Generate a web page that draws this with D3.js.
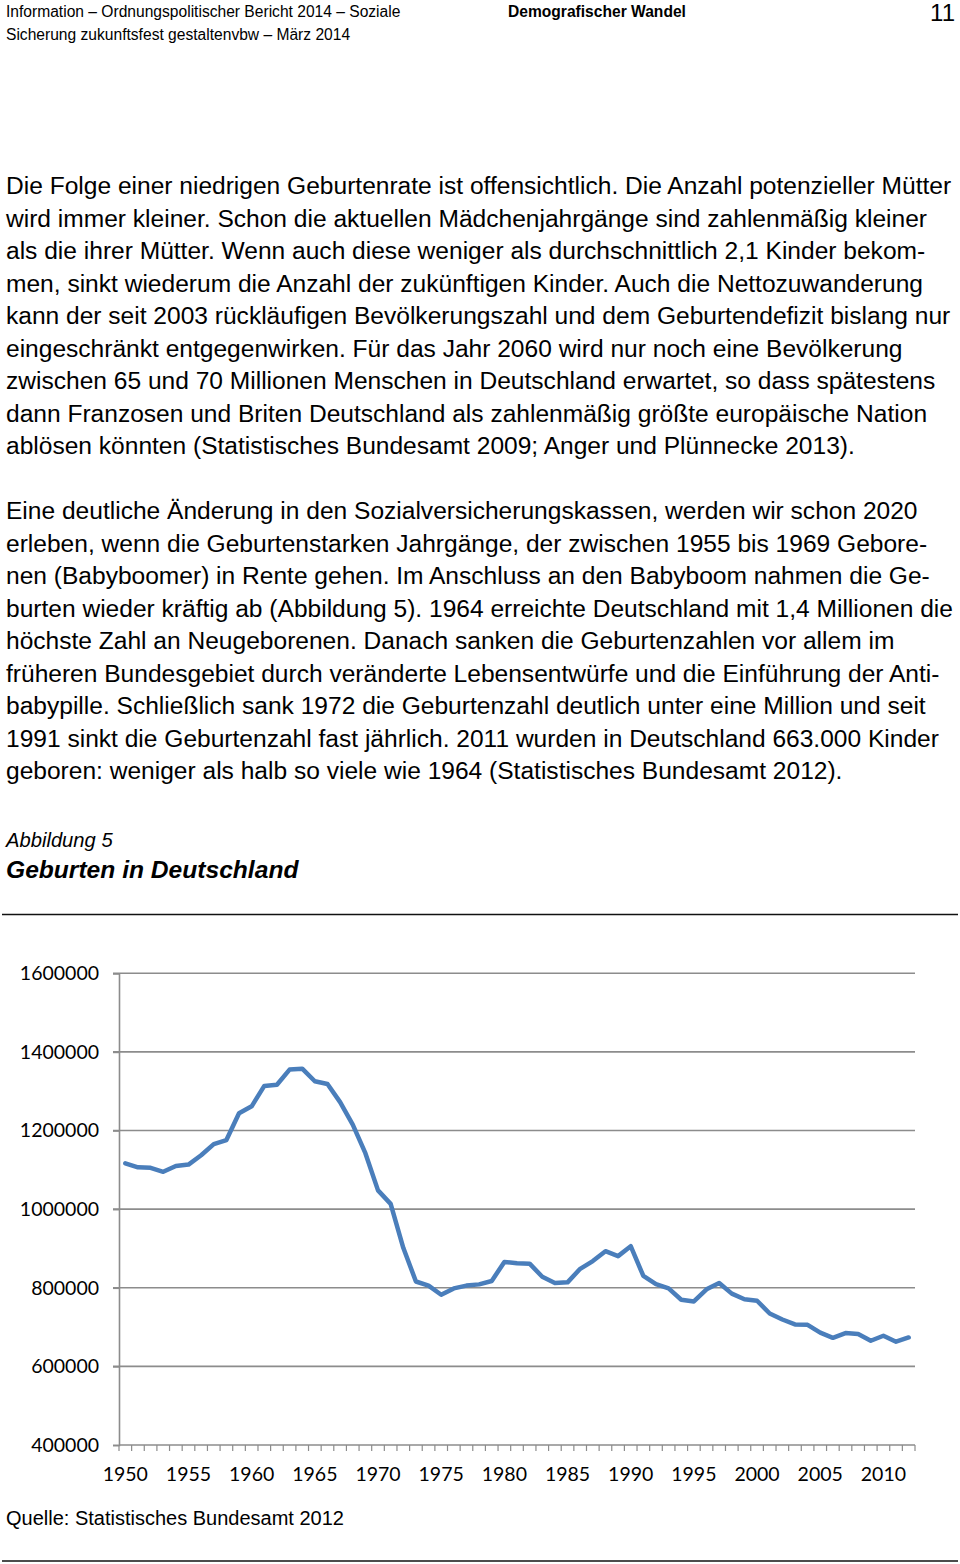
<!DOCTYPE html>
<html><head><meta charset="utf-8">
<script src="https://cdn.jsdelivr.net/npm/d3@7"></script>
<style>
html,body{margin:0;padding:0;background:#fff;}
svg{display:block;}
</style></head>
<body>
<svg id="page" width="960" height="1564"></svg>
<script>
// ---------- DATA ----------
const years = d3.range(1950, 2013);
const births = [
 1116701,1106380,1105084,1095029,1109743,1113408,1137169,1165555,1175870,1243922,
 1261614,1313505,1316534,1354987,1357304,1325386,1318303,1272276,1214968,1142366,
 1047737,1013396,901657,815969,805500,782310,798334,805496,808619,817217,
 865789,862100,861275,827933,812292,813803,848232,867969,892993,880459,
 905675,830019,809114,798447,769603,765221,796013,812173,785034,770744,
 766999,734475,719250,706721,705622,685795,672724,684862,682514,665126,
 677947,662685,673544
];
const yTicks = [400000,600000,800000,1000000,1200000,1400000,1600000];
const xLabelYears = [1950,1955,1960,1965,1970,1975,1980,1985,1990,1995,2000,2005,2010];

const headerLeft = ["Information – Ordnungspolitischer Bericht 2014 – Soziale",
                    "Sicherung zukunftsfest gestaltenvbw – März 2014"];
const headerCenter = "Demografischer Wandel";
const pageNumber = "11";
const para1 = [
 "Die Folge einer niedrigen Geburtenrate ist offensichtlich. Die Anzahl potenzieller Mütter",
 "wird immer kleiner. Schon die aktuellen Mädchenjahrgänge sind zahlenmäßig kleiner",
 "als die ihrer Mütter. Wenn auch diese weniger als durchschnittlich 2,1 Kinder bekom-",
 "men, sinkt wiederum die Anzahl der zukünftigen Kinder. Auch die Nettozuwanderung",
 "kann der seit 2003 rückläufigen Bevölkerungszahl und dem Geburtendefizit bislang nur",
 "eingeschränkt entgegenwirken. Für das Jahr 2060 wird nur noch eine Bevölkerung",
 "zwischen 65 und 70 Millionen Menschen in Deutschland erwartet, so dass spätestens",
 "dann Franzosen und Briten Deutschland als zahlenmäßig größte europäische Nation",
 "ablösen könnten (Statistisches Bundesamt 2009; Anger und Plünnecke 2013)."
];
const para2 = [
 "Eine deutliche Änderung in den Sozialversicherungskassen, werden wir schon 2020",
 "erleben, wenn die Geburtenstarken Jahrgänge, der zwischen 1955 bis 1969 Gebore-",
 "nen (Babyboomer) in Rente gehen. Im Anschluss an den Babyboom nahmen die Ge-",
 "burten wieder kräftig ab (Abbildung 5). 1964 erreichte Deutschland mit 1,4 Millionen die",
 "höchste Zahl an Neugeborenen. Danach sanken die Geburtenzahlen vor allem im",
 "früheren Bundesgebiet durch veränderte Lebensentwürfe und die Einführung der Anti-",
 "babypille. Schließlich sank 1972 die Geburtenzahl deutlich unter eine Million und seit",
 "1991 sinkt die Geburtenzahl fast jährlich. 2011 wurden in Deutschland 663.000 Kinder",
 "geboren: weniger als halb so viele wie 1964 (Statistisches Bundesamt 2012)."
];
const figLabel = "Abbildung 5";
const figTitle = "Geburten in Deutschland";
const sourceText = "Quelle: Statistisches Bundesamt 2012";

// ---------- PAGE ----------
const svg = d3.select("#page");
const SANS = "'Liberation Sans', Arial, sans-serif";

svg.selectAll("text.hl").data(headerLeft).join("text")
  .attr("class","hl").attr("x",6).attr("y",(d,i)=>17+i*22.5)
  .attr("font-family",SANS).attr("font-size",15.6).attr("fill","#000").text(d=>d);
svg.append("text").attr("x",508).attr("y",17).attr("font-family",SANS)
  .attr("font-size",15.6).attr("font-weight","bold").text(headerCenter);
svg.append("text").attr("x",955).attr("y",21).attr("text-anchor","end").attr("font-family",SANS)
  .attr("font-size",24).text(pageNumber);

// body font size fit to first line width
const probe = svg.append("text").attr("font-family",SANS).attr("font-size",100).text(para1[0]);
const bodySize = 946 / probe.node().getComputedTextLength() * 100;
probe.remove();

function para(lines, y0){
  svg.append("g").selectAll("text").data(lines).join("text")
    .attr("x",6).attr("y",(d,i)=>y0+i*32.5)
    .attr("font-family",SANS).attr("font-size",bodySize).attr("fill","#000").text(d=>d);
}
para(para1, 194);
para(para2, 519);

svg.append("text").attr("x",6).attr("y",847).attr("font-family",SANS).attr("font-size",20.2)
  .attr("font-style","italic").text(figLabel);
svg.append("text").attr("x",6).attr("y",878).attr("font-family",SANS).attr("font-size",24.6)
  .attr("font-style","italic").attr("font-weight","bold").text(figTitle);
svg.append("line").attr("x1",2).attr("x2",958).attr("y1",914.5).attr("y2",914.5)
  .attr("stroke","#111").attr("stroke-width",1.6);

// ---------- CHART ----------
const x = d3.scaleBand().domain(years).range([119,915]);
const y = d3.scaleLinear().domain([400000,1600000]).range([1445,973.3]);
const CHARTFONT = "Lato, 'Open Sans', sans-serif";
const AX = "#8c8c8c";

// gridlines
svg.append("g").selectAll("line").data(yTicks.filter(v=>v>400000)).join("line")
  .attr("x1",113).attr("x2",915).attr("y1",d=>y(d)).attr("y2",d=>y(d))
  .attr("stroke",AX).attr("stroke-width",1.6);

// y axis
const yAxis = d3.axisLeft(y).tickValues(yTicks).tickSize(6).tickPadding(14).tickFormat(d3.format("d"));
const gy = svg.append("g").attr("transform","translate(119,0)").call(yAxis);
gy.select(".domain").attr("stroke",AX).attr("stroke-width",1.6);
gy.selectAll(".tick line").attr("stroke",AX).attr("stroke-width",1.6);
gy.selectAll(".tick text").attr("font-family",CHARTFONT).attr("font-size",19.5).attr("fill","#000");

// x axis: ticks at category boundaries
const gx = svg.append("g").attr("transform","translate(0,1445)");
gx.append("line").attr("x1",119).attr("x2",915).attr("stroke",AX).attr("stroke-width",1.6);
const bounds = years.map(yr=>x(yr)).concat([x(years[years.length-1])+x.bandwidth()]);
gx.selectAll("line.t").data(bounds).join("line").attr("class","t")
  .attr("x1",d=>d).attr("x2",d=>d).attr("y1",0).attr("y2",6)
  .attr("stroke",AX).attr("stroke-width",1.2);
gx.selectAll("text").data(xLabelYears).join("text")
  .attr("x",d=>x(d)+x.bandwidth()/2).attr("y",36).attr("text-anchor","middle")
  .attr("font-family",CHARTFONT).attr("font-size",19.5).attr("fill","#000").text(d=>d);

// line
const line = d3.line().x((d,i)=>x(years[i])+x.bandwidth()/2).y(d=>y(d));
svg.append("path").datum(births).attr("d",line).attr("fill","none")
  .attr("stroke","#4a7ebb").attr("stroke-width",4.5).attr("stroke-linejoin","round").attr("stroke-linecap","round");

svg.append("text").attr("x",6).attr("y",1525).attr("font-family",SANS).attr("font-size",20).text(sourceText);
svg.append("line").attr("x1",2).attr("x2",958).attr("y1",1561).attr("y2",1561)
  .attr("stroke","#111").attr("stroke-width",1.6);
</script>
</body></html>
